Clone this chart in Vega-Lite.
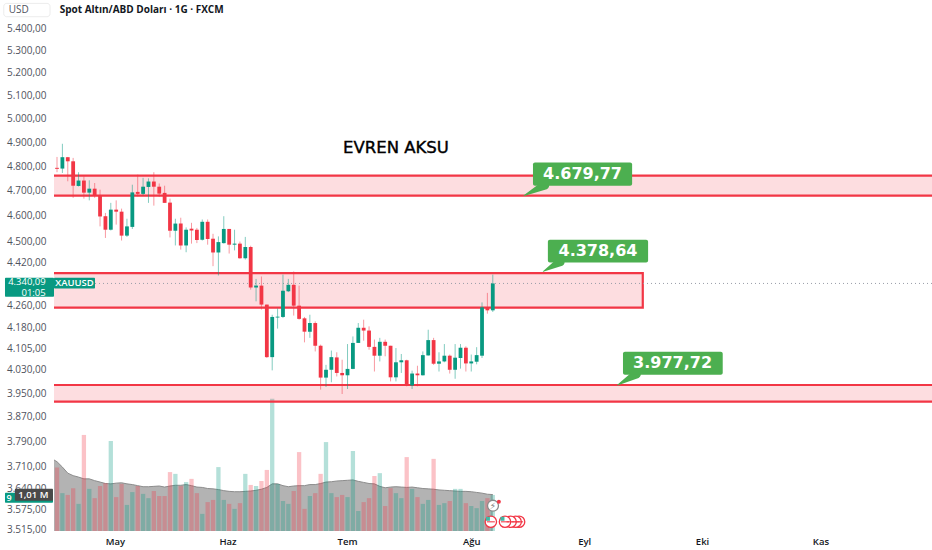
{
  "$schema": "https://vega.github.io/schema/vega-lite/v6.json",
  "width": 878,
  "height": 531,
  "autosize": {"type": "none"},
  "padding": {"left": 54, "top": 0, "right": 0, "bottom": 19},
  "background": "white",
  "config": {"view": {"stroke": null}, "font": "Open Sans"},
  "datasets": {
    "candles": [
      {"bar":0,"open":4793,"close":4789,"high":4838,"low":4775,"dir":"down","vol":1.78},
      {"bar":1,"open":4790,"close":4837,"high":4893,"low":4772,"dir":"up","vol":1.06},
      {"bar":2,"open":4837,"close":4820,"high":4838,"low":4738,"dir":"down","vol":1.01},
      {"bar":3,"open":4820,"close":4720,"high":4834,"low":4671,"dir":"down","vol":1.20},
      {"bar":4,"open":4719,"close":4741,"high":4775,"low":4717,"dir":"up","vol":0.76},
      {"bar":5,"open":4741,"close":4692,"high":4758,"low":4668,"dir":"down","vol":2.69},
      {"bar":6,"open":4692,"close":4708,"high":4742,"low":4661,"dir":"up","vol":1.18},
      {"bar":7,"open":4708,"close":4681,"high":4731,"low":4671,"dir":"down","vol":0.92},
      {"bar":8,"open":4681,"close":4597,"high":4704,"low":4558,"dir":"down","vol":1.26},
      {"bar":9,"open":4598,"close":4545,"high":4611,"low":4513,"dir":"down","vol":1.34},
      {"bar":10,"open":4545,"close":4624,"high":4651,"low":4542,"dir":"up","vol":2.52},
      {"bar":11,"open":4624,"close":4616,"high":4661,"low":4565,"dir":"down","vol":0.95},
      {"bar":12,"open":4616,"close":4522,"high":4628,"low":4503,"dir":"down","vol":1.32},
      {"bar":13,"open":4522,"close":4558,"high":4588,"low":4517,"dir":"up","vol":0.73},
      {"bar":14,"open":4556,"close":4693,"high":4724,"low":4548,"dir":"up","vol":1.09},
      {"bar":15,"open":4695,"close":4687,"high":4765,"low":4677,"dir":"down","vol":1.26},
      {"bar":16,"open":4687,"close":4716,"high":4752,"low":4681,"dir":"up","vol":1.04},
      {"bar":17,"open":4715,"close":4737,"high":4750,"low":4651,"dir":"up","vol":0.92},
      {"bar":18,"open":4737,"close":4716,"high":4775,"low":4640,"dir":"down","vol":1.12},
      {"bar":19,"open":4716,"close":4688,"high":4729,"low":4675,"dir":"down","vol":0.98},
      {"bar":20,"open":4691,"close":4651,"high":4720,"low":4651,"dir":"down","vol":0.98},
      {"bar":21,"open":4652,"close":4541,"high":4668,"low":4515,"dir":"down","vol":1.65},
      {"bar":22,"open":4541,"close":4569,"high":4588,"low":4484,"dir":"up","vol":1.60},
      {"bar":23,"open":4569,"close":4484,"high":4592,"low":4468,"dir":"down","vol":1.26},
      {"bar":24,"open":4484,"close":4545,"high":4554,"low":4458,"dir":"up","vol":1.37},
      {"bar":25,"open":4549,"close":4542,"high":4572,"low":4491,"dir":"down","vol":1.46},
      {"bar":26,"open":4545,"close":4505,"high":4552,"low":4493,"dir":"down","vol":1.06},
      {"bar":27,"open":4506,"close":4576,"high":4585,"low":4503,"dir":"up","vol":0.48},
      {"bar":28,"open":4576,"close":4509,"high":4585,"low":4487,"dir":"down","vol":0.81},
      {"bar":29,"open":4510,"close":4457,"high":4529,"low":4405,"dir":"down","vol":0.87},
      {"bar":30,"open":4457,"close":4497,"high":4519,"low":4370,"dir":"up","vol":1.79},
      {"bar":31,"open":4493,"close":4548,"high":4598,"low":4491,"dir":"up","vol":0.87},
      {"bar":32,"open":4548,"close":4487,"high":4548,"low":4453,"dir":"down","vol":0.76},
      {"bar":33,"open":4487,"close":4491,"high":4545,"low":4465,"dir":"up","vol":0.62},
      {"bar":34,"open":4491,"close":4435,"high":4499,"low":4433,"dir":"down","vol":0.78},
      {"bar":35,"open":4435,"close":4478,"high":4517,"low":4430,"dir":"up","vol":1.60},
      {"bar":36,"open":4478,"close":4325,"high":4483,"low":4317,"dir":"down","vol":1.29},
      {"bar":37,"open":4325,"close":4332,"high":4357,"low":4274,"dir":"up","vol":1.26},
      {"bar":38,"open":4332,"close":4262,"high":4366,"low":4244,"dir":"down","vol":1.40},
      {"bar":39,"open":4262,"close":4074,"high":4262,"low":4071,"dir":"down","vol":1.71},
      {"bar":40,"open":4074,"close":4217,"high":4225,"low":4028,"dir":"up","vol":3.70},
      {"bar":41,"open":4215,"close":4218,"high":4248,"low":4175,"dir":"up","vol":1.32},
      {"bar":42,"open":4217,"close":4313,"high":4373,"low":4213,"dir":"up","vol":0.84},
      {"bar":43,"open":4311,"close":4335,"high":4357,"low":4308,"dir":"up","vol":0.76},
      {"bar":44,"open":4335,"close":4258,"high":4385,"low":4222,"dir":"down","vol":1.12},
      {"bar":45,"open":4258,"close":4210,"high":4332,"low":4207,"dir":"down","vol":2.21},
      {"bar":46,"open":4212,"close":4164,"high":4217,"low":4126,"dir":"down","vol":0.62},
      {"bar":47,"open":4164,"close":4195,"high":4225,"low":4142,"dir":"up","vol":0.98},
      {"bar":48,"open":4195,"close":4114,"high":4201,"low":4094,"dir":"down","vol":1.06},
      {"bar":49,"open":4114,"close":4003,"high":4118,"low":3962,"dir":"down","vol":1.60},
      {"bar":50,"open":4003,"close":4030,"high":4047,"low":3971,"dir":"up","vol":2.49},
      {"bar":51,"open":4030,"close":4074,"high":4097,"low":3987,"dir":"up","vol":1.06},
      {"bar":52,"open":4073,"close":4019,"high":4091,"low":4007,"dir":"down","vol":0.95},
      {"bar":53,"open":4019,"close":4011,"high":4065,"low":3947,"dir":"down","vol":1.01},
      {"bar":54,"open":4011,"close":4033,"high":4120,"low":3964,"dir":"up","vol":0.95},
      {"bar":55,"open":4033,"close":4124,"high":4147,"low":4032,"dir":"up","vol":2.24},
      {"bar":56,"open":4124,"close":4178,"high":4195,"low":4124,"dir":"up","vol":0.56},
      {"bar":57,"open":4178,"close":4168,"high":4207,"low":4132,"dir":"down","vol":0.81},
      {"bar":58,"open":4168,"close":4110,"high":4183,"low":4100,"dir":"down","vol":0.92},
      {"bar":59,"open":4110,"close":4079,"high":4136,"low":4024,"dir":"down","vol":1.54},
      {"bar":60,"open":4079,"close":4128,"high":4142,"low":4059,"dir":"up","vol":1.62},
      {"bar":61,"open":4128,"close":4114,"high":4136,"low":4077,"dir":"down","vol":0.70},
      {"bar":62,"open":4114,"close":4004,"high":4114,"low":3990,"dir":"down","vol":1.20},
      {"bar":63,"open":4004,"close":4056,"high":4106,"low":3990,"dir":"up","vol":1.06},
      {"bar":64,"open":4056,"close":4063,"high":4085,"low":4019,"dir":"up","vol":0.92},
      {"bar":65,"open":4063,"close":3976,"high":4065,"low":3973,"dir":"down","vol":2.07},
      {"bar":66,"open":3976,"close":4017,"high":4027,"low":3964,"dir":"up","vol":1.18},
      {"bar":67,"open":4017,"close":4011,"high":4044,"low":3973,"dir":"down","vol":0.95},
      {"bar":68,"open":4011,"close":4081,"high":4094,"low":4010,"dir":"up","vol":0.76},
      {"bar":69,"open":4080,"close":4134,"high":4171,"low":4079,"dir":"up","vol":0.87},
      {"bar":70,"open":4134,"close":4051,"high":4142,"low":4047,"dir":"down","vol":2.02},
      {"bar":71,"open":4051,"close":4059,"high":4091,"low":4024,"dir":"up","vol":0.73},
      {"bar":72,"open":4059,"close":4079,"high":4120,"low":4056,"dir":"up","vol":0.78},
      {"bar":73,"open":4079,"close":4030,"high":4083,"low":4017,"dir":"down","vol":0.84},
      {"bar":74,"open":4030,"close":4072,"high":4120,"low":3999,"dir":"up","vol":1.18},
      {"bar":75,"open":4071,"close":4107,"high":4120,"low":4034,"dir":"up","vol":1.18},
      {"bar":76,"open":4107,"close":4052,"high":4112,"low":4024,"dir":"down","vol":0.78},
      {"bar":77,"open":4052,"close":4059,"high":4083,"low":4024,"dir":"up","vol":0.70},
      {"bar":78,"open":4058,"close":4081,"high":4109,"low":4049,"dir":"up","vol":0.64},
      {"bar":79,"open":4079,"close":4252,"high":4270,"low":4071,"dir":"up","vol":0.84},
      {"bar":80,"open":4250,"close":4241,"high":4305,"low":4229,"dir":"down","vol":0.92},
      {"bar":81,"open":4241,"close":4340,"high":4373,"low":4235,"dir":"up","vol":1.01}
    ],
    "volMa": [
      {"bar":-0.56,"ma":1.99},{"bar":0,"ma":1.94},{"bar":1,"ma":1.79},{"bar":2,"ma":1.62},{"bar":3,"ma":1.55},{"bar":4,"ma":1.51},{"bar":5,"ma":1.46},{"bar":6,"ma":1.46},{"bar":7,"ma":1.41},{"bar":8,"ma":1.37},{"bar":9,"ma":1.33},{"bar":10,"ma":1.32},{"bar":11,"ma":1.34},{"bar":12,"ma":1.35},{"bar":13,"ma":1.32},{"bar":14,"ma":1.30},{"bar":15,"ma":1.27},{"bar":16,"ma":1.24},{"bar":17,"ma":1.24},{"bar":18,"ma":1.25},{"bar":19,"ma":1.26},{"bar":20,"ma":1.23},{"bar":21,"ma":1.26},{"bar":22,"ma":1.28},{"bar":23,"ma":1.28},{"bar":24,"ma":1.30},{"bar":25,"ma":1.27},{"bar":26,"ma":1.23},{"bar":27,"ma":1.22},{"bar":28,"ma":1.19},{"bar":29,"ma":1.18},{"bar":30,"ma":1.16},{"bar":31,"ma":1.13},{"bar":32,"ma":1.11},{"bar":33,"ma":1.10},{"bar":34,"ma":1.10},{"bar":35,"ma":1.11},{"bar":36,"ma":1.12},{"bar":37,"ma":1.14},{"bar":38,"ma":1.17},{"bar":39,"ma":1.22},{"bar":40,"ma":1.32},{"bar":41,"ma":1.32},{"bar":42,"ma":1.27},{"bar":43,"ma":1.24},{"bar":44,"ma":1.26},{"bar":45,"ma":1.27},{"bar":46,"ma":1.27},{"bar":47,"ma":1.30},{"bar":48,"ma":1.30},{"bar":49,"ma":1.33},{"bar":50,"ma":1.37},{"bar":51,"ma":1.38},{"bar":52,"ma":1.40},{"bar":53,"ma":1.41},{"bar":54,"ma":1.42},{"bar":55,"ma":1.43},{"bar":56,"ma":1.39},{"bar":57,"ma":1.36},{"bar":58,"ma":1.33},{"bar":59,"ma":1.32},{"bar":60,"ma":1.25},{"bar":61,"ma":1.21},{"bar":62,"ma":1.23},{"bar":63,"ma":1.24},{"bar":64,"ma":1.23},{"bar":65,"ma":1.22},{"bar":66,"ma":1.23},{"bar":67,"ma":1.21},{"bar":68,"ma":1.19},{"bar":69,"ma":1.18},{"bar":70,"ma":1.17},{"bar":71,"ma":1.15},{"bar":72,"ma":1.14},{"bar":73,"ma":1.13},{"bar":74,"ma":1.12},{"bar":75,"ma":1.11},{"bar":76,"ma":1.11},{"bar":77,"ma":1.10},{"bar":78,"ma":1.08},{"bar":79,"ma":1.06},{"bar":80,"ma":1.03},{"bar":81,"ma":1.02}
    ],
    "zones": [
      {"from":-3,"to":170,"top":4761,"bottom":4679.77},
      {"from":-3,"to":108.88,"top":4378.64,"bottom":4251},
      {"from":-3,"to":170,"top":3977.72,"bottom":3921}
    ],
    "callouts": [
      {"from":88.47,"to":106.9,"top":4815,"bottom":4720,"mid":97.68,"midPrice":4766,"label":"4.679,77"},
      {"from":91.24,"to":109.87,"top":4506,"bottom":4419,"mid":100.55,"midPrice":4462,"label":"4.378,64"},
      {"from":105.2,"to":123.74,"top":4093,"bottom":4013,"mid":114.42,"midPrice":4052,"label":"3.977,72"}
    ],
    "tails": [
      {"id":"a","bar":90.65,"price":4722,"w":9},{"id":"a","bar":86.79,"price":4680,"w":0.6},
      {"id":"b","bar":93.52,"price":4421,"w":9},{"id":"b","bar":90.35,"price":4385,"w":0.6},
      {"id":"c","bar":107.69,"price":4015,"w":9},{"id":"c","bar":104.12,"price":3977,"w":0.6}
    ],
    "flags": [
      {"bar":85.89,"price":3537},{"bar":85.25,"price":3537},{"bar":84.31,"price":3537},{"bar":83.27,"price":3537},{"bar":80.64,"price":3537}
    ]
  },
  "resolve": {"scale": {"y": "independent"}},
  "layer": [
    {
      "layer": [
        {
          "data": {"name": "volMa"},
          "mark": {"type": "area", "color": "#7a7a7a", "opacity": 0.57, "line": {"color": "#8c8c8c", "strokeWidth": 1}},
          "encoding": {
            "x": {
              "field": "bar",
              "type": "quantitative",
              "scale": {"domain": [-0.56, 162.64], "nice": false, "zero": false, "padding": 0},
              "axis": {
                "title": null,
                "grid": false,
                "domain": false,
                "ticks": false,
                "labelPadding": 5,
                "labelFontSize": 9.5,
                "labelFontWeight": 600,
                "labelColor": "#131722",
                "values": [10.78, 31.7, 53.9, 77, 98, 119.9, 141.9],
                "labelExpr": "datum.value < 20 ? 'May' : datum.value < 40 ? 'Haz' : datum.value < 60 ? 'Tem' : datum.value < 85 ? 'Ağu' : datum.value < 110 ? 'Eyl' : datum.value < 130 ? 'Eki' : 'Kas'"
              }
            },
            "y": {
              "field": "ma",
              "type": "quantitative",
              "stack": null,
              "scale": {"domain": [0, 14.87], "nice": false, "zero": false},
              "axis": null
            }
          }
        },
        {
          "data": {"name": "candles"},
          "mark": {"type": "bar", "size": 4.3, "opacity": 0.3, "orient": "vertical"},
          "encoding": {
            "x": {"field": "bar", "type": "quantitative"},
            "y": {"field": "vol", "type": "quantitative", "stack": null},
            "color": {
              "field": "dir",
              "type": "nominal",
              "scale": {"domain": ["up", "down"], "range": ["#089981", "#F23645"]},
              "legend": null
            }
          }
        }
      ]
    },
    {
      "encoding": {
        "x": {"field": "bar", "type": "quantitative"},
        "y": {
          "field": "price",
          "type": "quantitative",
          "scale": {"type": "log", "domain": [3509, 5536], "nice": false, "zero": false},
          "axis": {
            "orient": "left",
            "title": null,
            "grid": false,
            "domain": false,
            "ticks": false,
            "labelPadding": 8,
            "labelFontSize": 10,
            "labelColor": "#50535e",
            "values": [5400, 5300, 5200, 5100, 5000, 4900, 4800, 4700, 4600, 4500, 4420, 4260, 4180, 4105, 4030, 3950, 3870, 3790, 3710, 3640, 3575, 3515],
            "labelExpr": "replace(replace(replace(format(datum.value, ',.2f'), ',', '#'), '.', ','), '#', '.')"
          }
        }
      },
      "layer": [
        {
          "data": {"name": "zones"},
          "mark": {"type": "rect", "fill": "#F23645", "fillOpacity": 0.17, "stroke": "#F23645", "strokeWidth": 2.2, "clip": true},
          "encoding": {
            "x": {"field": "from", "type": "quantitative"},
            "x2": {"field": "to"},
            "y": {"field": "top", "type": "quantitative"},
            "y2": {"field": "bottom"}
          }
        },
        {
          "data": {"values": [{"price": 4340.09}]},
          "mark": {"type": "rule", "color": "#9a9ea8", "strokeWidth": 1, "strokeDash": [1, 3]},
          "encoding": {"x": null, "y": {"field": "price", "type": "quantitative"}}
        },
        {
          "data": {"name": "candles"},
          "mark": {"type": "rule", "strokeWidth": 1, "opacity": 0.5},
          "encoding": {
            "x": {"field": "bar", "type": "quantitative"},
            "y": {"field": "high", "type": "quantitative"},
            "y2": {"field": "low"},
            "color": {"field": "dir", "type": "nominal", "scale": {"domain": ["up", "down"], "range": ["#089981", "#F23645"]}, "legend": null}
          }
        },
        {
          "data": {"name": "candles"},
          "mark": {"type": "bar", "size": 3.8, "orient": "vertical"},
          "encoding": {
            "x": {"field": "bar", "type": "quantitative"},
            "y": {"field": "open", "type": "quantitative"},
            "y2": {"field": "close"},
            "color": {"field": "dir", "type": "nominal", "scale": {"domain": ["up", "down"], "range": ["#089981", "#F23645"]}, "legend": null}
          }
        },
        {
          "data": {"name": "tails"},
          "mark": {"type": "trail", "color": "#4CAF50"},
          "encoding": {
            "detail": {"field": "id"},
            "order": {"field": "w", "sort": "descending"},
            "size": {"field": "w", "type": "quantitative", "scale": null, "legend": null}
          }
        },
        {
          "data": {"name": "callouts"},
          "mark": {"type": "rect", "fill": "#4CAF50", "cornerRadius": 2},
          "encoding": {
            "x": {"field": "from", "type": "quantitative"},
            "x2": {"field": "to"},
            "y": {"field": "top", "type": "quantitative"},
            "y2": {"field": "bottom"}
          }
        },
        {
          "data": {"name": "callouts"},
          "mark": {"type": "text", "color": "white", "font": "DejaVu Sans", "fontSize": 16, "fontWeight": "bold", "baseline": "middle"},
          "encoding": {
            "x": {"field": "mid", "type": "quantitative"},
            "y": {"field": "midPrice", "type": "quantitative"},
            "text": {"field": "label"}
          }
        },
        {
          "data": {"values": [{"bar": 63, "price": 4877, "label": "EVREN AKSU"}]},
          "mark": {"type": "text", "color": "#000", "stroke": "#000", "strokeWidth": 0.4, "font": "DejaVu Sans", "fontSize": 16.5, "baseline": "middle"},
          "encoding": {"text": {"field": "label"}}
        },
        {
          "data": {"values": [{"bar": 0.5, "price": 5489, "label": "Spot Altın/ABD Doları · 1G · FXCM"}]},
          "mark": {"type": "text", "color": "#131722", "fontSize": 10, "fontWeight": 700, "align": "left", "baseline": "middle"},
          "encoding": {"text": {"field": "label"}}
        },
        {
          "data": {"values": [{"from": -9.9, "to": -1.3, "top": 5520, "bottom": 5457}]},
          "mark": {"type": "rect", "fill": "white", "stroke": "#ececec", "cornerRadius": 3},
          "encoding": {
            "x": {"field": "from", "type": "quantitative"},
            "x2": {"field": "to"},
            "y": {"field": "top", "type": "quantitative"},
            "y2": {"field": "bottom"}
          }
        },
        {
          "data": {"values": [{"bar": -7.1, "price": 5488, "label": "USD"}]},
          "mark": {"type": "text", "color": "#50535e", "fontSize": 10, "baseline": "middle"},
          "encoding": {"text": {"field": "label"}}
        },
        {
          "data": {"values": [
            {"from": -9.67, "to": -0.56, "top": 4361, "bottom": 4291},
            {"from": -0.56, "to": 7.06, "top": 4361, "bottom": 4321},
            {"from": -9.67, "to": -0.75, "top": 3626, "bottom": 3595}
          ]},
          "mark": {"type": "rect", "fill": "#089981", "cornerRadius": 1},
          "encoding": {
            "x": {"field": "from", "type": "quantitative"},
            "x2": {"field": "to"},
            "y": {"field": "top", "type": "quantitative"},
            "y2": {"field": "bottom"}
          }
        },
        {
          "data": {"values": [{"from": -7.83, "to": -0.75, "top": 3639, "bottom": 3601}]},
          "mark": {"type": "rect", "fill": "#4a4a4a", "cornerRadius": 1},
          "encoding": {
            "x": {"field": "from", "type": "quantitative"},
            "x2": {"field": "to"},
            "y": {"field": "top", "type": "quantitative"},
            "y2": {"field": "bottom"}
          }
        },
        {
          "data": {"values": [
            {"bar": -2.1, "price": 4347, "label": "4.340,09"},
            {"bar": -2.1, "price": 4305, "label": "01:05"}
          ]},
          "mark": {"type": "text", "color": "white", "fontSize": 9.5, "align": "right", "baseline": "middle"},
          "encoding": {"text": {"field": "label"}}
        },
        {
          "data": {"values": [{"bar": 3.25, "price": 4342, "label": "XAUUSD"}]},
          "mark": {"type": "text", "color": "white", "fontSize": 9.5, "fontWeight": 600, "baseline": "middle"},
          "encoding": {"text": {"field": "label"}}
        },
        {
          "data": {"values": [{"bar": -4.4, "price": 3620, "label": "1,01 M"}]},
          "mark": {"type": "text", "color": "white", "fontSize": 9.5, "fontWeight": 600, "baseline": "middle"},
          "encoding": {"text": {"field": "label"}}
        },
        {
          "data": {"values": [{"bar": -8.9, "price": 3609, "label": "9"}]},
          "mark": {"type": "text", "color": "white", "fontSize": 9, "fontWeight": 600, "baseline": "middle"},
          "encoding": {"text": {"field": "label"}}
        },
        {
          "data": {"name": "flags"},
          "mark": {"type": "point", "filled": true, "fill": "white", "stroke": "#F23645", "strokeWidth": 1.3, "size": 130, "opacity": 1},
          "encoding": {}
        },
        {
          "data": {"name": "flags"},
          "mark": {"type": "tick", "orient": "horizontal", "color": "#F23645", "size": 8, "thickness": 1.5},
          "encoding": {}
        },
        {
          "data": {"values": [{"bar": 80.1, "price": 3546}, {"bar": 82.8, "price": 3546}]},
          "mark": {"type": "point", "shape": "square", "filled": true, "color": "#41b7a4", "size": 16, "opacity": 1},
          "encoding": {}
        },
        {
          "data": {"values": [{"bar": 81.04, "price": 3586}]},
          "mark": {"type": "point", "filled": true, "fill": "white", "stroke": "#8a8a8a", "strokeWidth": 1.3, "size": 120, "opacity": 1},
          "encoding": {}
        },
        {
          "data": {"values": [{"bar": 81.04, "price": 3586, "label": "⚡"}]},
          "mark": {"type": "text", "color": "#777", "font": "DejaVu Sans", "fontSize": 9, "baseline": "middle"},
          "encoding": {"text": {"field": "label"}}
        },
        {
          "data": {"values": [{"bar": 82.13, "price": 3598}]},
          "mark": {"type": "point", "filled": true, "color": "#F23645", "size": 16, "opacity": 1},
          "encoding": {}
        }
      ]
    }
  ]
}
